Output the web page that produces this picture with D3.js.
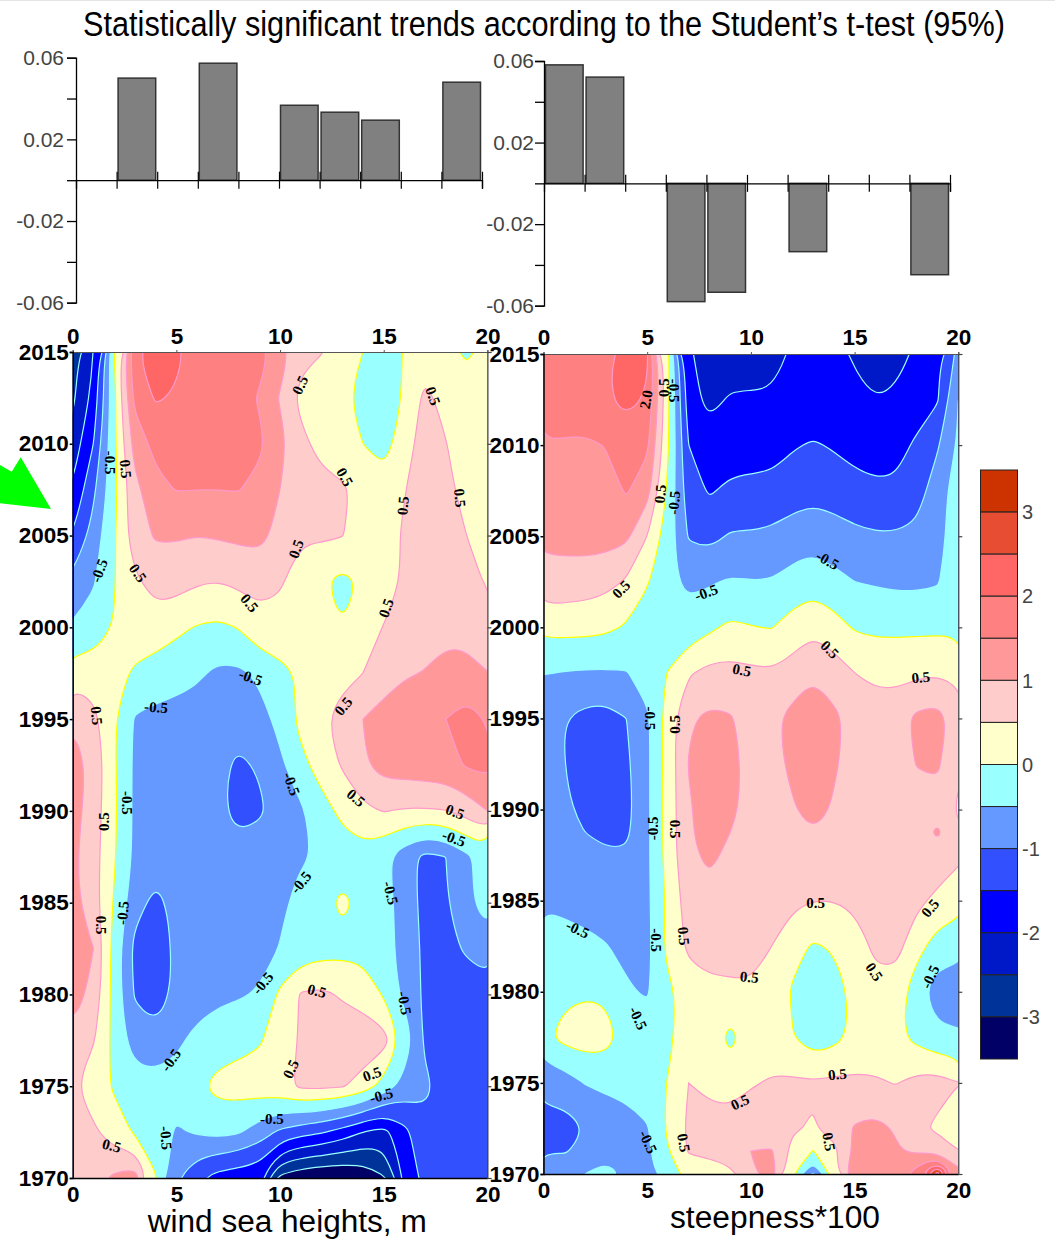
<!DOCTYPE html>
<html>
<head>
<meta charset="utf-8">
<script src="https://cdnjs.cloudflare.com/ajax/libs/d3/7.8.5/d3.min.js"></script>
<style>
  html, body { margin: 0; padding: 0; background: #fff; }
  svg { display: block; }
  text { font-family: "Liberation Sans", Arial, sans-serif; }
  .curve-label { font-family: "Liberation Serif", serif; font-weight: bold; font-size: 15px; fill: #000; }
</style>
</head>
<body>
<svg id="chart" width="1055" height="1239"></svg>
<script>
// bars, trend per 2-unit bin
const windBarStart = [2, 6, 10, 12, 14, 18];
const windBarTrend = [0.05, 0.0573, 0.0367, 0.0333, 0.0294, 0.048];
const steepBarStart = [0, 2, 6, 8, 12, 18];
const steepBarTrend = [0.0581, 0.0521, -0.058, -0.0534, -0.0335, -0.0448];

// legend, top to bottom
const levelColors = ['#cc3300', '#e64d33', '#ff6666', '#ff8080', '#ff9999', '#ffcccc', '#ffffcc',
  '#99ffff', '#6699ff', '#3350ff', '#0000ff', '#0019c8', '#003399', '#000066'];
const legendTicks = [3, 2, 1, 0, -1, -2, -3];

const binValues = d3.range(0, 21);

// wind sea heights, rows top to bottom, columns are bins 0..20
const windYears = [2015, 2012.5, 2010, 2007.5, 2005, 2002.5, 2000, 1997.5, 1995, 1992.5, 1990, 1987.5, 1985, 1982.5, 1980, 1977.5, 1975, 1972.5, 1970];
const windRows = [
  [-2.7,-2.0,0.0,1.95,2.45,2.1,1.8,1.8,1.75,1.7,1.25,0.65,0.52,0.25,0.0,-0.2,0.03,0.15,0.1,-0.05,0.1],
  [-2.6,-1.85,-0.15,1.65,2.05,1.95,1.8,1.8,1.7,1.45,0.95,0.35,0.2,0.05,-0.1,-0.2,0.03,0.65,0.3,0.15,0.15],
  [-2.3,-1.5,-0.1,1.2,1.65,1.8,1.85,1.85,1.85,1.6,1.15,0.65,0.3,0.1,0.0,-0.2,0.25,0.75,0.52,0.2,0.15],
  [-1.95,-1.1,-0.15,0.85,1.35,1.52,1.5,1.5,1.52,1.35,1.0,0.85,0.7,0.6,0.3,0.2,0.48,0.75,0.65,0.3,0.2],
  [-1.5,-0.8,-0.05,0.8,1.05,1.05,1.0,1.05,1.1,1.15,0.85,0.55,0.58,0.52,0.3,0.35,0.55,0.65,0.65,0.5,0.3],
  [-0.85,-0.55,-0.03,0.4,0.72,0.7,0.55,0.5,0.6,0.65,0.55,0.3,0.05,-0.15,0.05,0.25,0.55,0.7,0.7,0.65,0.45],
  [-0.45,-0.3,0.03,0.25,0.25,0.1,-0.03,-0.1,0.02,0.35,0.35,0.3,0.15,0.0,0.25,0.52,0.75,0.8,0.8,0.8,0.8],
  [0.3,0.25,0.15,-0.07,-0.2,-0.3,-0.42,-0.6,-0.6,-0.4,-0.15,0.05,0.2,0.3,0.5,0.75,0.95,1.02,1.25,1.2,1.0],
  [0.95,0.65,0.03,-0.55,-0.65,-0.7,-0.75,-0.75,-0.8,-0.7,-0.35,0.15,0.4,0.75,1.0,1.2,1.3,1.4,1.5,1.7,1.45],
  [1.25,0.85,0.07,-0.6,-0.7,-0.75,-0.8,-0.9,-1.08,-0.95,-0.6,-0.15,0.22,0.55,0.95,1.2,1.25,1.3,1.35,1.55,1.65],
  [1.2,0.75,0.08,-0.6,-0.7,-0.75,-0.8,-0.88,-1.2,-1.08,-0.8,-0.58,-0.2,0.12,0.4,0.52,0.45,0.45,0.48,0.7,1.0],
  [1.1,0.7,0.05,-0.6,-0.7,-0.75,-0.75,-0.75,-0.75,-0.7,-0.6,-0.55,-0.45,-0.25,-0.2,-0.4,-0.8,-1.15,-1.0,-0.6,-0.3],
  [1.15,0.7,-0.05,-0.8,-1.15,-0.85,-0.8,-0.75,-0.75,-0.7,-0.6,-0.35,-0.15,0.1,-0.1,-0.25,-0.75,-1.15,-1.05,-0.6,-0.25],
  [1.25,1.0,-0.2,-1.15,-1.3,-0.9,-0.8,-0.75,-0.75,-0.7,-0.48,-0.3,-0.2,-0.15,-0.15,-0.3,-0.7,-1.1,-1.1,-0.95,-0.75],
  [1.25,0.85,-0.2,-1.05,-1.25,-0.9,-0.75,-0.6,-0.55,-0.45,0.1,0.55,0.6,0.45,0.3,-0.05,-0.65,-1.1,-1.2,-1.2,-1.2],
  [0.85,0.55,-0.15,-0.75,-0.85,-0.6,-0.35,-0.25,-0.15,-0.05,0.2,0.55,0.7,0.75,0.8,0.7,-0.15,-1.1,-1.2,-1.2,-1.2],
  [0.55,0.2,-0.05,-0.25,-0.3,-0.3,-0.1,0.15,0.2,0.25,0.35,0.6,0.6,0.55,0.3,-0.2,-0.7,-0.9,-1.2,-1.2,-1.2],
  [0.85,0.6,0.2,-0.05,-0.3,-0.55,-0.45,-0.35,-0.45,-0.75,-1.1,-1.3,-1.45,-1.7,-2.0,-2.2,-1.65,-1.15,-1.2,-1.2,-1.2],
  [0.7,0.85,1.1,1.25,0.05,-0.95,-1.4,-1.7,-1.8,-1.85,-3.15,-3.4,-3.5,-3.5,-3.4,-3.05,-1.9,-1.3,-1.2,-1.2,-1.2]
];

// steepness*100, two extra rows where the features are small
const steepYears = [2015, 2012.5, 2010, 2007.5, 2005, 2002.5, 2000, 1997.5, 1995, 1992.5, 1990, 1988.75, 1987.5, 1985, 1982.5, 1980, 1977.5, 1975, 1972.5, 1971.25, 1970];
const steepRows = [
  [1.9,1.9,1.95,1.95,2.1,2.05,0.1,-1.9,-2.3,-2.25,-2.2,-2.15,-1.95,-1.8,-1.85,-2.05,-2.2,-2.2,-1.9,-1.6,-0.85],
  [1.8,1.85,1.9,1.95,2.15,1.95,0.1,-1.8,-2.15,-1.95,-1.95,-1.95,-1.9,-1.85,-1.85,-1.9,-2.0,-1.9,-1.8,-1.55,-0.5],
  [1.47,1.43,1.4,1.52,1.7,1.6,0.05,-1.5,-1.75,-1.75,-1.75,-1.7,-1.55,-1.45,-1.55,-1.7,-1.75,-1.7,-1.4,-1.05,-0.45],
  [1.2,1.2,1.25,1.3,1.55,1.2,-0.1,-1.3,-1.55,-1.4,-1.35,-1.35,-1.2,-1.15,-1.2,-1.3,-1.4,-1.4,-1.2,-0.75,-0.2],
  [1.1,1.15,1.2,1.2,1.1,0.5,-0.25,-1.05,-1.15,-0.95,-0.95,-0.9,-0.8,-0.7,-0.8,-0.9,-0.95,-0.95,-0.9,-0.7,-0.2],
  [0.85,0.8,0.75,0.65,0.45,0.05,-0.4,-0.6,-0.55,-0.45,-0.48,-0.48,-0.3,-0.2,-0.35,-0.5,-0.55,-0.6,-0.6,-0.55,-0.1],
  [0.15,0.15,0.15,0.1,-0.05,-0.3,-0.35,-0.3,-0.1,0.1,0.02,-0.02,0.2,0.4,0.2,-0.05,-0.1,-0.1,-0.1,-0.1,-0.1],
  [-0.48,-0.52,-0.55,-0.55,-0.53,-0.25,0.02,0.45,0.65,0.65,0.6,0.55,0.7,0.95,0.75,0.5,0.35,0.35,0.4,0.45,0.4],
  [-0.85,-1.0,-1.15,-1.2,-1.0,-0.6,0.25,0.95,1.1,1.05,0.8,0.9,1.15,1.3,1.1,0.85,0.8,0.8,1.12,1.2,0.75],
  [-0.85,-1.0,-1.2,-1.25,-1.1,-0.6,0.2,1.02,1.2,1.15,0.85,0.85,1.1,1.25,1.05,0.85,0.8,0.8,1.02,1.08,0.55],
  [-0.8,-0.9,-1.15,-1.2,-1.15,-0.6,0.2,0.95,1.2,1.1,0.85,0.8,0.95,1.2,0.95,0.8,0.75,0.75,0.8,0.8,0.45],
  [-0.78,-0.85,-1.0,-1.1,-1.08,-0.6,0.2,0.95,1.15,1.0,0.82,0.78,0.88,0.98,0.85,0.75,0.72,0.72,0.78,1.08,0.55],
  [-0.75,-0.8,-0.85,-0.95,-0.95,-0.6,0.2,0.9,1.1,0.9,0.8,0.75,0.8,0.85,0.8,0.7,0.7,0.7,0.75,0.75,0.6],
  [-0.55,-0.6,-0.65,-0.7,-0.7,-0.6,0.1,0.75,0.85,0.75,0.7,0.65,0.6,0.5,0.5,0.6,0.65,0.7,0.6,0.4,0.2],
  [-0.3,-0.35,-0.4,-0.48,-0.6,-0.65,0.15,0.6,0.75,0.7,0.65,0.5,0.15,-0.05,0.05,0.25,0.6,0.65,0.2,-0.25,-0.3],
  [-0.2,-0.1,-0.05,-0.08,-0.45,-0.55,-0.12,0.25,0.35,0.4,0.45,0.3,-0.05,-0.35,-0.2,0.1,0.35,0.3,-0.35,-0.75,-0.8],
  [-0.1,0.15,0.25,0.2,-0.2,-0.25,-0.1,0.25,0.3,-0.15,0.25,0.25,0.02,-0.3,-0.15,0.1,0.25,0.1,-0.15,-0.4,-0.4],
  [-0.85,-0.75,-0.48,-0.4,-0.3,-0.2,0.02,0.5,0.4,0.3,0.45,0.55,0.58,0.55,0.6,0.6,0.55,0.48,0.65,0.7,0.5],
  [-1.15,-1.2,-1.0,-0.8,-0.75,-0.55,0.1,0.6,0.65,0.7,0.85,0.7,0.55,0.46,0.7,1.05,1.15,0.95,0.6,0.4,0.3],
  [-1.02,-1.05,-0.85,-0.75,-0.7,-0.6,-0.05,0.55,0.6,0.7,1.0,1.05,0.35,-0.02,0.35,1.1,1.15,1.05,0.9,0.9,0.5],
  [-0.7,-0.65,-0.5,-0.25,-0.6,-0.7,-0.2,0.15,0.3,0.4,0.9,1.25,0.05,-1.05,0.3,1.5,1.35,1.1,1.8,3.2,1.2]
];

// isoline labels: bin, year, text, angle
const windCurveLabels = [
  [1.83,2008.97,'-0.5',90],[2.56,2008.63,'0.5',85],[1.27,2003.09,'-0.5',-70],[3.15,2002.96,'0.5',55],
  [8.53,2001.33,'0.5',50],[10.96,2013.2,'0.5',-65],[17.38,2012.6,'0.5',70],[13.13,2008.19,'0.5',60],
  [15.92,2006.63,'0.5',-85],[18.68,2007.05,'0.5',85],[10.77,2004.27,'0.5',-70],[15.11,2001.05,'0.5',-70],
  [1.16,1995.19,'0.5',85],[1.48,1989.41,'0.5',-90],[2.65,1990.43,'-0.5',90],[4.02,1995.66,'-0.5',5],
  [8.58,1997.29,'-0.5',20],[2.41,1984.44,'-0.5',-85],[1.40,1983.78,'0.5',90],[13.05,1995.71,'0.5',-50],
  [10.56,1991.47,'-0.5',70],[13.66,1990.72,'0.5',40],[18.44,1989.96,'0.5',20],[18.39,1988.52,'-0.5',20],
  [11.0,1986.11,'-0.5',-50],[15.34,1985.53,'-0.5',75],[9.16,1980.62,'-0.5',-50],[11.78,1980.2,'0.5',15],
  [16.01,1979.53,'-0.5',80],[4.73,1976.43,'-0.5',-55],[10.51,1975.94,'0.5',-65],[14.43,1975.67,'0.5',-20],
  [14.88,1974.5,'-0.5',-15],[9.61,1973.22,'-0.5',0],[1.88,1971.77,'0.5',15],[4.51,1972.18,'-0.5',85]
];
const steepCurveLabels = [
  [4.94,2012.51,'2.0',-80],[5.82,2013.15,'0.5',-90],[6.29,2012.99,'-0.5',90],[5.62,2007.32,'0.5',-85],
  [6.29,2006.84,'-0.5',-85],[3.74,2002.1,'0.5',-45],[7.84,2001.92,'-0.5',-20],[13.7,2003.69,'-0.5',30],
  [9.56,1997.66,'0.5',10],[13.81,1998.79,'0.5',45],[18.19,1997.26,'0.5',-5],[5.13,1995.0,'-0.5',90],
  [6.34,1994.68,'0.5',-90],[5.29,1988.97,'-0.5',-90],[6.37,1988.93,'0.5',90],[13.12,1984.89,'0.5',0],
  [18.64,1984.6,'0.5',-50],[1.65,1983.44,'-0.5',25],[5.42,1982.84,'-0.5',90],[6.77,1983.06,'0.5',85],
  [15.95,1981.1,'0.5',55],[9.92,1980.82,'0.5',5],[18.64,1980.82,'-0.5',-65],[4.57,1978.56,'-0.5',65],
  [14.17,1975.48,'0.5',-5],[9.47,1973.95,'0.5',-25],[5.05,1971.77,'-0.5',65],[6.77,1971.71,'0.5',80],
  [13.77,1971.77,'0.5',80]
];

const svg = d3.select('#chart');
const thresholds = d3.range(-3, 3.01, 0.5);
const bandColor = t => levelColors[Math.round((3 - t) / 0.5)];
const lineColor = t => t === 0 ? '#ffff00' : (t > 0 ? '#ff99cc' : '#99ffff');

// top bar panel
function drawBars (starts, trends, box) {
  const x = d3.scaleLinear().domain([0, 20]).range([box.x0, box.x1]);
  const y = d3.scaleLinear().domain([0.06, -0.06]).range([box.y0, box.y1]);
  const g = svg.append('g');

  g.selectAll('rect').data(starts).join('rect')
    .attr('x', d => x(d) + 1.5)
    .attr('width', d => x(d + 2) - x(d) - 3)
    .attr('y', (d, i) => Math.min(y(0), y(trends[i])))
    .attr('height', (d, i) => Math.abs(y(trends[i]) - y(0)))
    .attr('fill', '#808080')
    .attr('stroke', '#333')
    .attr('stroke-width', 1.5);

  const labelled = [0.06, 0.02, -0.02, -0.06];
  const yAxis = d3.axisLeft(y)
    .tickValues([0.06, 0.04, 0.02, 0, -0.02, -0.04, -0.06])
    .tickSize(9).tickPadding(box.labelPad)
    .tickFormat(d => labelled.includes(d) ? String(d) : '');
  const ya = g.append('g').attr('transform', `translate(${box.x0},0)`).call(yAxis);
  ya.selectAll('text').attr('font-size', 21).attr('fill', '#444').attr('font-family', '"Liberation Sans"');
  ya.selectAll('line,path').attr('stroke', '#000').attr('stroke-width', 1.3);

  const xAxis = d3.axisBottom(x).tickValues(d3.range(0, 21, 2).slice(1)).tickSize(8.5).tickFormat('');
  const xa = g.append('g').attr('transform', `translate(0,${y(0)})`).call(xAxis);
  xa.select('.domain').attr('stroke', '#000').attr('stroke-width', 1.3);
  xa.selectAll('.tick line').attr('y1', -8.5).attr('stroke', '#000').attr('stroke-width', 1.2);
}

// contour panel
function drawField (name, rows, years, box, curveLabels) {
  const x = d3.scaleLinear().domain([0, 20]).range([box.x0, box.x1]);
  const y = d3.scaleLinear().domain([2015, 1970]).range([box.y0, box.y1]);
  const rowYear = d3.scaleLinear().domain(years.map((d, i) => i)).range(years);

  const clipId = 'clip-' + name;
  svg.append('clipPath').attr('id', clipId).append('rect')
    .attr('x', box.x0).attr('y', box.y0)
    .attr('width', box.x1 - box.x0).attr('height', box.y1 - box.y0);

  const g = svg.append('g').attr('clip-path', `url(#${clipId})`);
  g.append('rect')
    .attr('x', box.x0).attr('y', box.y0)
    .attr('width', box.x1 - box.x0).attr('height', box.y1 - box.y0)
    .attr('fill', levelColors[levelColors.length - 1]);

  const contours = d3.contours().size([binValues.length, rows.length]).thresholds(thresholds)(rows.flat());

  // rounded isolines, grid index moved to bin/year first
  const ringLine = d3.line()
    .x(p => x(p[0] - 0.5))
    .y(p => y(rowYear(p[1] - 0.5)))
    .curve(d3.curveBasisClosed);

  contours.forEach(c => {
    if (!c.coordinates.length) return;
    const d = c.coordinates.map(poly => poly.map(ring => ringLine(ring.slice(0, -1))).join('')).join('');
    g.append('path')
      .attr('d', d)
      .attr('fill', bandColor(c.value))
      .attr('fill-rule', 'evenodd')
      .attr('stroke', lineColor(c.value))
      .attr('stroke-width', 1.2);
  });

  svg.append('g').selectAll('text').data(curveLabels).join('text')
    .attr('class', 'curve-label')
    .attr('text-anchor', 'middle')
    .attr('dy', '0.35em')
    .attr('transform', d => `translate(${x(d[0])},${y(d[1])}) rotate(${d[3]})`)
    .text(d => d[2]);

  const years5 = d3.range(1970, 2016, 5);
  const bins5 = d3.range(0, 21, 5);
  const styleAxis = sel => {
    sel.selectAll('text').attr('font-size', 22.5).attr('font-weight', 'bold').attr('fill', '#000')
      .attr('font-family', '"Liberation Sans"');
  };

  const top = svg.append('g').attr('transform', `translate(0,${box.y0})`)
    .call(d3.axisTop(x).tickValues(bins5).tickSize(2).tickPadding(box.topPad));
  styleAxis(top);
  top.selectAll('line,path').attr('stroke', '#555');

  const bottom = svg.append('g').attr('transform', `translate(0,${box.y1})`)
    .call(d3.axisBottom(x).tickValues(bins5).tickSize(0).tickPadding(8));
  styleAxis(bottom);
  bottom.selectAll('line,path').attr('stroke', '#000').attr('stroke-width', 1.5);

  const left = svg.append('g').attr('transform', `translate(${box.x0},0)`)
    .call(d3.axisLeft(y).tickValues(years5).tickFormat(d3.format('d')).tickSize(3).tickPadding(1));
  styleAxis(left);
  left.selectAll('line,path').attr('stroke', '#000').attr('stroke-width', 1.5);

  const right = svg.append('g').attr('transform', `translate(${box.x1},0)`)
    .call(d3.axisRight(y).tickValues(years5).tickFormat('').tickSize(4));
  right.selectAll('line,path').attr('stroke', '#444').attr('stroke-width', 1.2);
}

// legend column
function drawLegend () {
  const y = d3.scaleLinear().domain([-3.5, 3.5]).range([1059, 470]);
  const g = svg.append('g');
  g.selectAll('rect').data(levelColors).join('rect')
    .attr('x', 980.5).attr('width', 37)
    .attr('y', (d, i) => y(3.5 - i * 0.5))
    .attr('height', y(0) - y(0.5))
    .attr('fill', d => d)
    .attr('stroke', '#222')
    .attr('stroke-width', 1);
  g.selectAll('text').data(legendTicks).join('text')
    .attr('x', 1022)
    .attr('y', d => y(d))
    .attr('dy', '0.36em')
    .attr('font-size', 20)
    .attr('fill', '#444')
    .text(d => String(d));
}

svg.append('rect').attr('width', 1055).attr('height', 1).attr('fill', '#e4e4e4');

// arrow cut off by the left edge
svg.append('polygon')
  .attr('points', '0,465 11.7,471.7 20.7,457.3 51,509 0,503.3')
  .attr('fill', '#00ff00');

svg.append('text')
  .attr('transform', 'translate(83,36) scale(1,1.15)')
  .attr('font-size', 30)
  .attr('textLength', 922).attr('lengthAdjust', 'spacingAndGlyphs')
  .text('Statistically significant trends according to the Student\u2019s t-test (95%)');

drawBars(windBarStart, windBarTrend, { x0: 76, x1: 482, y0: 57.7, y1: 302.7, labelPad: 3 });
drawBars(steepBarStart, steepBarTrend, { x0: 544, x1: 950, y0: 61, y1: 305.7, labelPad: 1 });

drawField('wind', windRows, windYears, { x0: 72.7, x1: 487.4, y0: 352, y1: 1178, topPad: 6 }, windCurveLabels);
drawField('steep', steepRows, steepYears, { x0: 543.5, x1: 958.3, y0: 354, y1: 1174, topPad: 7 }, steepCurveLabels);

drawLegend();

svg.append('text').attr('x', 147.7).attr('y', 1232).attr('font-size', 31)
  .attr('textLength', 279).attr('lengthAdjust', 'spacingAndGlyphs').text('wind sea heights, m');
svg.append('text').attr('x', 670).attr('y', 1228).attr('font-size', 31)
  .attr('textLength', 210).attr('lengthAdjust', 'spacingAndGlyphs').text('steepness*100');
</script>
</body>
</html>
